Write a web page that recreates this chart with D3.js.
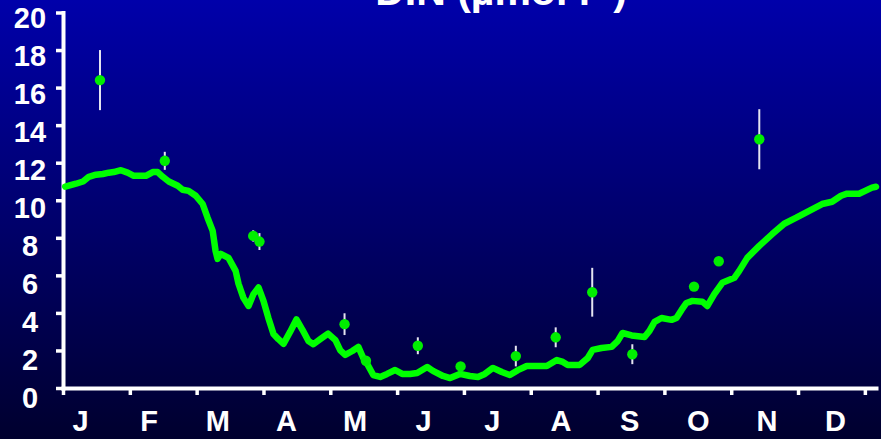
<!DOCTYPE html>
<html>
<head>
<meta charset="utf-8">
<script src="https://cdn.jsdelivr.net/npm/d3@7"></script>
<style>
  html, body { margin: 0; padding: 0; background: #000033; }
  svg { display: block; }
  text { font-family: "Liberation Sans", Arial, sans-serif; font-weight: bold; fill: #ffffff; }
</style>
</head>
<body>
<svg id="chart" width="881" height="439"></svg>
<script>
// Month initials along the year axis
const months = ["J", "F", "M", "A", "M", "J", "J", "A", "S", "O", "N", "D"];
// Y axis ticks (µmol l-1)
const yTicks = [0, 2, 4, 6, 8, 10, 12, 14, 16, 18, 20];
// Day-of-year ticks on the x axis
const dayTicks = [0, 30, 60, 90, 120, 150, 180, 210, 240, 270, 300, 330, 360];

// Modelled DIN through the year: day of year and concentration
const modelDays = [1, 5.8, 9, 11.6, 14.8, 17.9, 20.6, 22.8, 26, 29, 31.8, 37.2, 40.3, 42.5, 44.8, 47.5,
  51.5, 53.7, 56.4, 59.6, 62.7, 64.9, 67.2, 68.5, 69.4, 70.8, 74.3, 77.5, 78.8, 81, 83.3, 85.5,
  87.8, 90, 92.2, 94.5, 96.7, 99, 102, 104.8, 107.5, 110.2, 112.4, 115.5, 119, 122.3, 124.5, 126.7,
  129.9, 132.6, 134.8, 136.6, 139.3, 142.4, 145.5, 149.1, 152.3, 155.8, 159, 163.5, 166.1, 170.6,
  173.8, 178.2, 182.7, 186.3, 189.4, 193, 197, 200.6, 204.2, 208.2, 217.2, 221.7, 224.4, 226.6,
  232, 235.6, 237.8, 241.8, 246.3, 249, 251.2, 255.3, 261.1, 263.3, 265.6, 268.7, 273.2, 275.4,
  277.7, 279.9, 282.6, 287, 289.3, 292.4, 296, 301.4, 303.6, 307.2, 312.6, 318.4, 323.8, 329.2,
  335, 340.8, 345.3, 349.3, 352, 357.4, 363.2, 365];
const modelValues = [10.72, 10.88, 11.0, 11.25, 11.36, 11.4, 11.47, 11.5, 11.6, 11.47, 11.3, 11.3, 11.5, 11.5, 11.25, 11.0,
  10.77, 10.56, 10.5, 10.24, 9.8, 9.07, 8.37, 7.3, 6.88, 7.15, 6.93, 6.24, 5.55, 4.8, 4.37, 5.0,
  5.35, 4.64, 3.73, 2.88, 2.6, 2.35, 3.0, 3.65, 3.1, 2.5, 2.33, 2.6, 2.9, 2.55, 2.0, 1.76,
  1.97, 2.19, 1.6, 1.28, 0.69, 0.59, 0.75, 0.96, 0.75, 0.75, 0.8, 1.12, 0.91, 0.64,
  0.53, 0.75, 0.64, 0.59, 0.75, 1.07, 0.85, 0.69, 0.95, 1.17, 1.17, 1.49, 1.39, 1.23,
  1.23, 1.6, 2.03, 2.13, 2.19, 2.5, 2.93, 2.8, 2.72, 3.04, 3.52, 3.73, 3.63, 3.73,
  4.16, 4.53, 4.64, 4.6, 4.37, 5.0, 5.6, 5.87, 6.24, 6.93, 7.57, 8.2, 8.75, 9.07,
  9.44, 9.8, 9.92, 10.24, 10.35, 10.35, 10.67, 10.72];

// Observed DIN: sampling day, mean and half-range of the error bar
const obsDays = [16.6, 45.7, 85.4, 88.2, 126.4, 136, 159.3, 178.5, 203.3, 221.2, 237.6, 255.6, 283.3, 294.4, 312.6];
const obsMeans = [16.4, 12.1, 8.1, 7.8, 3.4, 1.45, 2.25, 1.15, 1.7, 2.7, 5.1, 1.8, 5.4, 6.75, 13.25];
const obsErrors = [1.6, 0.48, 0.3, 0.45, 0.58, 0, 0.45, 0, 0.55, 0.53, 1.3, 0.53, 0, 0, 1.6];

const svg = d3.select("#chart");
const W = 881, H = 439;

// Background: deep blue fading to near-black
const defs = svg.append("defs");
const grad = defs.append("linearGradient")
  .attr("id", "bg").attr("x1", 0).attr("y1", 0).attr("x2", 0).attr("y2", 1);
grad.append("stop").attr("offset", "0%").attr("stop-color", "#0000aa");
grad.append("stop").attr("offset", "100%").attr("stop-color", "#00002e");
svg.append("rect").attr("width", W).attr("height", H).attr("fill", "url(#bg)");

const x = d3.scaleLinear().domain([0, 365]).range([63, 876]);
const y = d3.scaleLinear().domain([0, 20]).range([388, 12.5]);
// Label positions for the tick text
const yLabel = d3.scaleLinear().domain([0, 20]).range([397.5, 18]);
const monthPos = d3.scaleLinear().domain([0, months.length - 1]).range([80.5, 835.5]);

// Title (sits partly above the top edge)
const title = svg.append("text")
  .attr("x", 501).attr("y", 5)
  .attr("text-anchor", "middle")
  .style("font-size", "41px");
title.append("tspan").text("DIN (µmol l");
title.append("tspan").attr("baseline-shift", "super").style("font-size", "26px").text("-1");
title.append("tspan").text(")");

// Axes
const xAxis = svg.append("g")
  .attr("transform", `translate(0,${y(0)})`)
  .call(d3.axisBottom(x).tickValues(dayTicks).tickSize(7).tickSizeOuter(0).tickFormat(""));
const yAxis = svg.append("g")
  .attr("transform", `translate(${x(0)},0)`)
  .call(d3.axisLeft(y).tickValues(yTicks).tickSize(7).tickSizeOuter(0).tickFormat(""));
[xAxis, yAxis].forEach(g => {
  g.select(".domain").attr("stroke", "#ffffff").attr("stroke-width", 4).attr("stroke-linecap", "square");
  g.selectAll(".tick line").attr("stroke", "#ffffff").attr("stroke-width", 3.5);
});

// Y tick labels
svg.append("g").selectAll("text")
  .data(yTicks)
  .join("text")
  .attr("x", 30)
  .attr("y", d => yLabel(d) + 10.4)
  .attr("text-anchor", "middle")
  .style("font-size", "29px")
  .text(d => d);

// Month labels
svg.append("g").selectAll("text")
  .data(months)
  .join("text")
  .attr("x", (d, i) => monthPos(i))
  .attr("y", 430.5)
  .attr("text-anchor", "middle")
  .style("font-size", "29px")
  .text(d => d);

// Model curve
const modelData = modelDays.map((d, i) => ({ day: d, v: modelValues[i] }));
svg.append("path")
  .datum(modelData)
  .attr("fill", "none")
  .attr("stroke", "#00ff00")
  .attr("stroke-width", 6.5)
  .attr("stroke-linejoin", "round")
  .attr("stroke-linecap", "round")
  .attr("d", d3.line().x(d => x(d.day)).y(d => y(d.v)));

// Observations with error bars
const obs = obsDays.map((d, i) => ({ day: d, v: obsMeans[i], e: obsErrors[i] }));
svg.append("g").selectAll("line")
  .data(obs.filter(d => d.e > 0))
  .join("line")
  .attr("x1", d => x(d.day)).attr("x2", d => x(d.day))
  .attr("y1", d => y(d.v - d.e)).attr("y2", d => y(d.v + d.e))
  .attr("stroke", "#e4e4f0")
  .attr("stroke-width", 2);
svg.append("g").selectAll("circle")
  .data(obs)
  .join("circle")
  .attr("cx", d => x(d.day))
  .attr("cy", d => y(d.v))
  .attr("r", 5.2)
  .attr("fill", "#00ee00");
</script>
</body>
</html>
